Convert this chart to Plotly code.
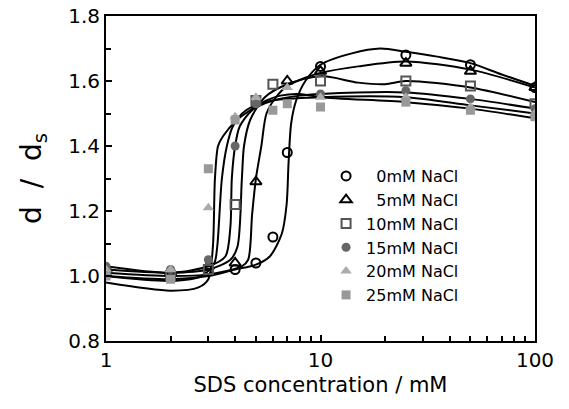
import plotly.graph_objects as go

# ---- measured data (markers) ----
labels = ["\u20070mM NaCl", "\u20075mM NaCl", "10mM NaCl", "15mM NaCl", "20mM NaCl", "25mM NaCl"]

x0 = [1, 2, 3, 4, 5, 6, 7, 10, 25, 50, 100]
y0 = [1.02, 1.01, 1.02, 1.02, 1.04, 1.12, 1.38, 1.645, 1.68, 1.65, 1.58]

x5 = [1, 2, 3, 4, 5, 7, 10, 25, 50, 100]
y5 = [1.02, 1.01, 1.03, 1.04, 1.29, 1.60, 1.63, 1.655, 1.63, 1.58]

x10 = [1, 2, 3, 4, 5, 6, 10, 25, 50, 100]
y10 = [1.01, 1.00, 1.02, 1.22, 1.54, 1.59, 1.60, 1.60, 1.585, 1.53]

x15 = [1, 2, 3, 4, 5, 10, 25, 50, 100]
y15 = [1.03, 1.02, 1.05, 1.40, 1.53, 1.56, 1.57, 1.545, 1.515]

x20 = [1, 2, 3, 4, 5, 7, 10, 25, 50, 100]
y20 = [1.02, 1.02, 1.21, 1.49, 1.55, 1.58, 1.55, 1.55, 1.52, 1.50]

x25 = [1, 2, 3, 4, 6, 7, 10, 25, 50, 100]
y25 = [1.00, 0.99, 1.33, 1.48, 1.51, 1.53, 1.52, 1.535, 1.51, 1.49]

# ---- fitted curves ----
cx0 = [1, 2, 3, 4, 5, 5.8, 6.6, 6.95, 7.1, 7.3, 7.7, 8.5, 10, 14, 19, 25, 35, 50, 70, 100]
cy0 = [1.00, 0.99, 1.00, 1.02, 1.035, 1.06, 1.13, 1.22, 1.35, 1.47, 1.54, 1.60, 1.65, 1.685, 1.70, 1.69, 1.675, 1.655, 1.62, 1.585]

cx5 = [1, 2, 3, 4.3, 4.6, 4.8, 5.0, 5.3, 5.6, 6.2, 7, 8.5, 10, 15, 25, 50, 100]
cy5 = [1.01, 1.00, 1.005, 1.03, 1.05, 1.19, 1.30, 1.40, 1.50, 1.55, 1.585, 1.61, 1.625, 1.645, 1.66, 1.635, 1.58]

cx10 = [1, 2, 3, 3.8, 4.1, 4.3, 4.4, 4.7, 5.5, 7, 10, 15, 20, 25, 50, 100]
cy10 = [1.02, 1.01, 1.02, 1.05, 1.09, 1.30, 1.40, 1.48, 1.55, 1.59, 1.615, 1.595, 1.59, 1.60, 1.58, 1.535]

cx15 = [1, 2, 3, 3.6, 3.8, 3.86, 4.0, 4.2, 4.8, 6, 8, 10, 25, 50, 100]
cy15 = [1.03, 1.01, 1.03, 1.06, 1.15, 1.30, 1.40, 1.46, 1.51, 1.54, 1.555, 1.56, 1.565, 1.545, 1.515]

cx20 = [1, 2, 2.8, 3.2, 3.3, 3.47, 3.66, 3.9, 4.5, 6, 10, 25, 50, 100]
cy20 = [1.00, 0.985, 1.00, 1.04, 1.09, 1.30, 1.40, 1.46, 1.51, 1.54, 1.55, 1.55, 1.525, 1.50]

cx25 = [1, 2, 2.7, 3.0, 3.15, 3.22, 3.33, 3.51, 4.08, 4.7, 5.6, 6.5, 8, 10, 25, 50, 100]
cy25 = [0.98, 0.955, 0.965, 0.99, 1.09, 1.30, 1.40, 1.43, 1.48, 1.51, 1.54, 1.555, 1.56, 1.55, 1.535, 1.515, 1.485]

points = [(x0, y0), (x5, y5), (x10, y10), (x15, y15), (x20, y20), (x25, y25)]
curves = [(cx0, cy0), (cx5, cy5), (cx10, cy10), (cx15, cy15), (cx20, cy20), (cx25, cy25)]

markers = [
    dict(symbol="circle-open", color="black", size=9, line=dict(width=2, color="black")),
    dict(symbol="triangle-up-open", color="black", size=10, line=dict(width=2, color="black")),
    dict(symbol="square-open", color="#555555", size=9, line=dict(width=2, color="#555555")),
    dict(symbol="circle", color="#666666", size=9, line=dict(width=0)),
    dict(symbol="triangle-up", color="#aaaaaa", size=10, line=dict(width=0)),
    dict(symbol="square", color="#999999", size=9, line=dict(width=0)),
]

fig = go.Figure()
for (cx, cy) in curves:
    fig.add_trace(go.Scatter(x=cx, y=cy, mode="lines", showlegend=False,
                             line=dict(color="black", width=2, shape="spline", smoothing=0.8),
                             hoverinfo="skip"))
for (px, py), lab, mk in zip(points, labels, markers):
    fig.add_trace(go.Scatter(x=px, y=py, mode="markers", name=lab, marker=mk))

font_family = "DejaVu Sans, Liberation Sans, Arial, sans-serif"

fig.update_layout(
    width=569, height=409,
    margin=dict(l=106, r=34, t=16, b=68, autoexpand=False),
    paper_bgcolor="white", plot_bgcolor="white",
    font=dict(family=font_family, color="black", size=19),
    legend=dict(x=0.513, y=0.56, xanchor="left", yanchor="top",
                bgcolor="rgba(0,0,0,0)", font=dict(size=16, family=font_family),
                tracegroupgap=0, itemwidth=30),
    showlegend=True,
)
fig.update_xaxes(
    type="log", range=[0, 2], automargin=False,
    tickmode="linear", tick0=0, dtick=1, tickangle=0,
    ticks="inside", ticklen=6, tickwidth=2, tickcolor="black",
    minor=dict(ticks="inside", dtick="D1", ticklen=5, tickwidth=1.5,
               tickcolor="black", showgrid=False),
    showline=True, linecolor="black", linewidth=2, mirror=True,
    showgrid=False, zeroline=False,
    tickfont=dict(size=20),
    title=dict(text="SDS concentration / mM", font=dict(size=21), standoff=6),
)
fig.update_yaxes(
    range=[0.8, 1.8], automargin=False,
    tickmode="linear", tick0=0.8, dtick=0.2, tickformat=".1f", tickangle=0,
    ticks="inside", ticklen=6, tickwidth=2, tickcolor="black",
    minor=dict(ticks="inside", dtick=0.1, ticklen=5, tickwidth=1.5,
               tickcolor="black", showgrid=False),
    showline=True, linecolor="black", linewidth=2, mirror=True,
    showgrid=False, zeroline=False,
    tickfont=dict(size=20),
    title=dict(text="d\u00a0\u00a0/\u00a0\u00a0d<sub>s</sub>", font=dict(size=28), standoff=18),
)

fig.write_html("out.html", config={"displayModeBar": False})

# remove the default page margin so the figure sits at the window origin
with open("out.html", "r", encoding="utf-8") as f:
    html = f.read()
html = html.replace("<head>", "<head><style>body{margin:0;padding:0;}</style>", 1)
with open("out.html", "w", encoding="utf-8") as f:
    f.write(html)
